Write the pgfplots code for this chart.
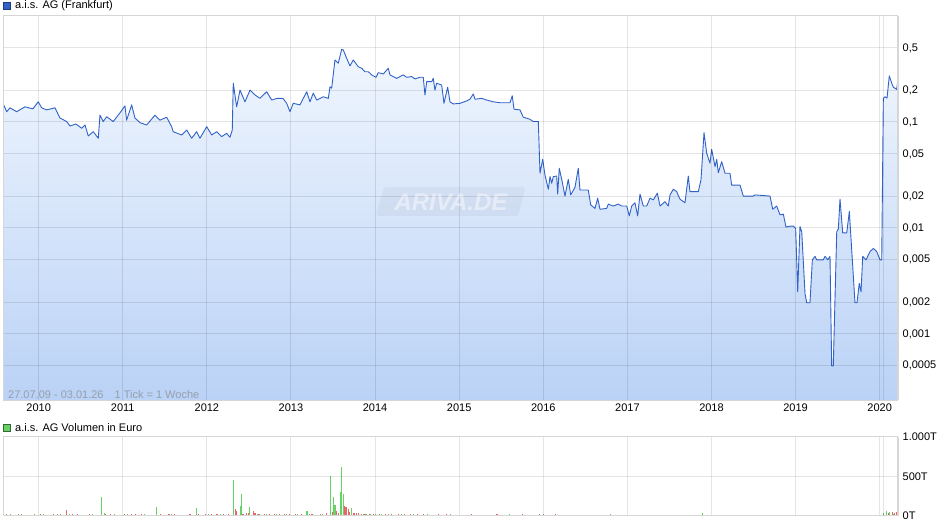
\documentclass[border=0pt]{standalone}
\usepackage{pgfplots}
\usepackage{pgfplotstable}
\pgfplotsset{compat=1.18}
\usepackage{fontspec}
\setmainfont{Liberation Sans}

\definecolor{priceline}{RGB}{48,98,200}
\definecolor{filltop}{RGB}{240,246,254}
\definecolor{fillbot}{RGB}{186,210,246}
\definecolor{volgreen}{RGB}{102,210,102}
\definecolor{volred}{RGB}{226,104,104}
\definecolor{infogray}{RGB}{150,158,172}
\definecolor{framegray}{RGB}{214,214,214}

% weekly close, a.i.s. AG (Frankfurt)
\pgfplotstableread{
year price
2009.579 0.148
2009.620 0.125
2009.659 0.136
2009.738 0.125
2009.837 0.139
2009.932 0.133
2009.995 0.155
2010.036 0.136
2010.095 0.130
2010.194 0.136
2010.253 0.109
2010.333 0.101
2010.372 0.0917
2010.444 0.0957
2010.511 0.0872
2010.551 0.0937
2010.590 0.0738
2010.649 0.0810
2010.709 0.0702
2010.729 0.116
2010.768 0.101
2010.809 0.112
2010.887 0.101
2010.967 0.122
2011.026 0.142
2011.046 0.104
2011.106 0.145
2011.145 0.109
2011.205 0.0985
2011.284 0.0937
2011.383 0.116
2011.442 0.104
2011.522 0.111
2011.581 0.0903
2011.600 0.0810
2011.700 0.0754
2011.760 0.0840
2011.819 0.0702
2011.879 0.0810
2011.918 0.0702
2011.998 0.0903
2012.057 0.0754
2012.117 0.0810
2012.176 0.0727
2012.235 0.0782
2012.275 0.0717
2012.302 0.0840
2012.314 0.232
2012.354 0.139
2012.394 0.200
2012.453 0.155
2012.513 0.200
2012.572 0.180
2012.631 0.167
2012.711 0.193
2012.771 0.161
2012.834 0.167
2012.905 0.167
2012.949 0.150
2012.988 0.125
2013.027 0.150
2013.107 0.145
2013.187 0.193
2013.226 0.155
2013.265 0.187
2013.306 0.161
2013.384 0.173
2013.444 0.167
2013.464 0.215
2013.484 0.208
2013.523 0.385
2013.562 0.358
2013.603 0.485
2013.622 0.478
2013.662 0.399
2013.702 0.338
2013.741 0.385
2013.800 0.332
2013.841 0.321
2013.880 0.298
2013.919 0.298
2013.960 0.278
2014.011 0.264
2014.038 0.292
2014.098 0.284
2014.157 0.321
2014.177 0.278
2014.257 0.258
2014.335 0.278
2014.376 0.264
2014.435 0.268
2014.474 0.255
2014.534 0.264
2014.573 0.264
2014.593 0.180
2014.614 0.240
2014.673 0.240
2014.692 0.258
2014.712 0.200
2014.732 0.232
2014.792 0.223
2014.819 0.150
2014.863 0.213
2014.891 0.155
2014.930 0.148
2015.010 0.150
2015.089 0.158
2015.128 0.164
2015.168 0.184
2015.188 0.164
2015.268 0.167
2015.327 0.161
2015.406 0.155
2015.485 0.152
2015.604 0.152
2015.631 0.177
2015.652 0.132
2015.723 0.130
2015.762 0.111
2015.842 0.106
2015.881 0.101
2015.941 0.101
2015.961 0.0328
2015.993 0.0445
2016.020 0.0316
2016.060 0.0232
2016.080 0.0305
2016.100 0.0264
2016.119 0.0305
2016.159 0.0309
2016.171 0.0209
2016.190 0.0366
2016.219 0.0288
2016.258 0.0200
2016.297 0.0288
2016.326 0.0205
2016.377 0.0242
2016.416 0.0366
2016.436 0.0228
2016.535 0.0228
2016.564 0.0165
2016.615 0.0153
2016.647 0.0191
2016.674 0.0150
2016.754 0.0153
2016.773 0.0168
2016.832 0.0161
2016.892 0.0168
2016.932 0.0161
2016.992 0.0161
2017.023 0.0130
2017.051 0.0161
2017.090 0.0173
2017.122 0.0130
2017.150 0.0209
2017.189 0.0161
2017.230 0.0161
2017.269 0.0191
2017.308 0.0184
2017.356 0.0213
2017.388 0.0161
2017.447 0.0177
2017.486 0.0161
2017.507 0.0205
2017.546 0.0232
2017.586 0.0220
2017.625 0.0187
2017.685 0.0173
2017.724 0.0309
2017.744 0.0220
2017.843 0.0220
2017.875 0.0284
2017.911 0.0793
2017.943 0.0507
2017.982 0.0408
2018.002 0.0553
2018.042 0.0379
2018.062 0.0445
2018.081 0.0332
2018.121 0.0422
2018.161 0.0328
2018.220 0.0328
2018.240 0.0254
2018.339 0.0254
2018.378 0.0200
2018.497 0.0200
2018.517 0.0205
2018.696 0.0200
2018.728 0.0150
2018.775 0.0161
2018.815 0.0133
2018.854 0.0135
2018.886 0.0102
2018.933 0.0104
2018.973 0.0104
2019.001 0.0099
2019.025 0.0025
2019.052 0.0103
2019.073 0.0092
2019.112 0.0024
2019.132 0.00197
2019.171 0.00197
2019.199 0.0050
2019.231 0.0054
2019.251 0.0050
2019.329 0.0050
2019.350 0.0054
2019.382 0.0050
2019.409 0.0054
2019.429 0.0005
2019.448 0.0005
2019.489 0.0092
2019.508 0.0098
2019.528 0.0187
2019.560 0.0090
2019.608 0.0090
2019.639 0.0143
2019.706 0.00197
2019.730 0.00197
2019.757 0.0030
2019.778 0.0025
2019.798 0.0054
2019.837 0.0050
2019.885 0.0060
2019.924 0.0064
2019.964 0.0060
2020.004 0.0050
2020.024 0.0050
2020.043 0.167
2020.063 0.173
2020.087 0.168
2020.114 0.272
2020.143 0.232
2020.162 0.213
2020.202 0.203
2020.214 0.240
}\pricetable

% volume in thousand euro, weeks with rising price
\pgfplotstableread{
year vol
2009.60 15
2009.66 30
2009.76 20
2009.85 15
2009.95 25
2010.06 20
2010.14 15
2010.22 20
2010.30 15
2010.37 20
2010.44 15
2010.56 15
2010.64 20
2010.744 240
2010.78 35
2010.90 20
2010.98 15
2011.06 20
2011.18 15
2011.26 20
2011.34 15
2011.398 114
2011.50 15
2011.58 20
2011.66 15
2011.75 15
2011.874 101
2011.94 15
2012.02 20
2012.09 15
2012.16 20
2012.23 15
2012.314 456
2012.397 130
2012.409 278
2012.509 114
2012.60 20
2012.66 15
2012.71 20
2012.77 15
2012.83 20
2012.89 15
2012.95 20
2013.02 15
2013.08 20
2013.15 15
2013.190 63
2013.22 20
2013.30 15
2013.38 20
2013.467 506
2013.503 240
2013.523 139
2013.586 304
2013.598 620
2013.622 278
2013.717 101
2013.76 30
2013.86 25
2013.90 20
2013.95 25
2014.01 20
2014.08 25
2014.16 20
2014.24 15
2014.31 20
2014.39 15
2014.46 20
2014.54 15
2014.62 20
2014.70 15
2014.80 15
2014.90 20
2015.00 15
2015.10 15
2015.20 10
2015.30 15
2015.40 10
2015.50 15
2015.60 20
2015.70 10
2015.80 15
2015.90 10
2016.00 25
2016.10 15
2016.20 10
2016.30 15
2016.40 10
2016.50 15
2016.60 10
2016.70 15
2016.80 20
2016.90 10
2017.00 15
2017.10 10
2017.20 15
2017.30 10
2017.40 15
2017.50 10
2017.60 15
2017.70 10
2017.89 35
2018.00 10
2018.10 10
2018.20 15
2018.30 10
2018.40 10
2018.50 15
2018.60 10
2018.70 10
2018.80 15
2018.90 10
2019.00 15
2019.10 10
2019.20 15
2019.30 10
2019.40 10
2019.50 15
2019.60 10
2019.70 15
2019.80 10
2019.90 15
2020.00 10
2020.05 40
2020.08 60
2020.12 45
2020.17 30
}\greenvol

% volume in thousand euro, weeks with falling price
\pgfplotstableread{
year vol
2009.58 25
2009.62 20
2009.70 15
2009.80 20
2009.90 15
2010.02 20
2010.10 15
2010.18 25
2010.26 20
2010.33 76
2010.40 25
2010.46 20
2010.52 15
2010.60 20
2010.68 15
2010.80 30
2010.85 20
2010.95 15
2011.02 20
2011.10 30
2011.15 20
2011.22 25
2011.30 15
2011.45 20
2011.55 25
2011.62 20
2011.70 15
2011.80 25
2011.90 20
2011.98 20
2012.05 25
2012.12 20
2012.20 25
2012.26 20
2012.338 85
2012.354 60
2012.43 30
2012.47 40
2012.492 40
2012.552 60
2012.572 40
2012.62 25
2012.68 30
2012.74 20
2012.80 25
2012.86 20
2012.92 30
2012.98 25
2013.05 20
2013.12 25
2013.25 20
2013.35 25
2013.42 40
2013.491 50
2013.539 67
2013.562 35
2013.634 127
2013.654 118
2013.681 89
2013.70 50
2013.749 40
2013.78 35
2013.80 40
2013.841 30
2013.88 25
2013.93 20
2013.98 30
2014.05 25
2014.12 20
2014.20 25
2014.28 20
2014.35 25
2014.42 20
2014.50 25
2014.58 20
2014.65 15
2014.75 20
2014.85 25
2014.95 15
2015.05 15
2015.15 20
2015.25 15
2015.35 15
2015.45 20
2015.55 15
2015.65 15
2015.75 20
2015.85 15
2015.95 20
2016.05 15
2016.15 20
2016.25 15
2016.35 15
2016.45 15
2016.55 10
2016.65 15
2016.75 10
2016.85 15
2016.95 10
2017.05 15
2017.15 10
2017.25 15
2017.35 10
2017.45 10
2017.55 15
2017.65 10
2017.75 15
2017.85 10
2017.95 15
2018.05 10
2018.15 15
2018.25 10
2018.35 10
2018.45 15
2018.55 10
2018.65 10
2018.75 15
2018.85 10
2018.95 15
2019.05 10
2019.15 10
2019.25 15
2019.35 10
2019.45 15
2019.55 10
2019.65 10
2019.75 15
2019.85 10
2019.95 10
2020.10 40
2020.15 50
2020.18 35
2020.20 45
}\redvol

\pgfplotsset{
  chartbase/.style={
    scale only axis,
    width=894.7pt,
    xmin=2009.576, xmax=2020.214,
    xtick={2010,2011,2012,2013,2014,2015,2016,2017,2018,2019,2020},
    extra x ticks={2020.043},
    extra x tick labels={},
    extra x tick style={grid=major},
    grid=major,
    grid style={draw=black, draw opacity=0.1, line width=1pt},
    axis line style={draw=framegray, line width=1pt},
    major tick length=0pt,
    yticklabel pos=right,
    tick label style={font=\fontsize{11}{13}\selectfont, text=black},
    yticklabel style={anchor=west, xshift=1.4pt},
    /pgf/number format/assume math mode=true,
    axis on top,
  }
}

\begin{document}
\begin{tikzpicture}[x=1pt,y=1pt]
\path[use as bounding box] (0pt,0pt) rectangle (940pt,-526pt);

\begin{axis}[chartbase,
  at={(3pt,-16pt)}, anchor=north west,
  height=384pt,
  ymode=log, ymin=0.000238, ymax=1,
  log origin y=infty,
  ytick={0.0005,0.001,0.002,0.005,0.01,0.02,0.05,0.1,0.2,0.5},
  yticklabels={{0,0005},{0,001},{0,002},{0,005},{0,01},{0,02},{0,05},{0,1},{0,2},{0,5}},
  xticklabels={2010,2011,2012,2013,2014,2015,2016,2017,2018,2019,2020},
]
\addplot[draw=none, top color=filltop, bottom color=fillbot] table[x=year, y=price] {\pricetable} \closedcycle;
\addplot[priceline, line width=0.9pt, line join=round] table[x=year, y=price] {\pricetable};
\end{axis}

\begin{axis}[chartbase,
  at={(3pt,-437pt)}, anchor=north west,
  height=79pt,
  ymin=0, ymax=1000,
  ytick={0,500,1000},
  yticklabels={0T,500T,1.000T},
  xticklabels={},
]
\addplot[ycomb, volgreen, line width=1.1pt] table[x=year, y=vol] {\greenvol};
\addplot[ycomb, volred, line width=1.1pt] table[x=year, y=vol] {\redvol};
\end{axis}

% right frame edges are a bit heavier
\draw[framegray, line width=2pt] (897.7pt,-16pt) -- (897.7pt,-400pt);
\draw[framegray, line width=2pt] (897.7pt,-437pt) -- (897.7pt,-516pt);

% watermark
\fill[black, opacity=0.035, rounded corners=3pt] (376pt,-216pt) -- (518pt,-216pt) -- (525.5pt,-187pt) -- (383.5pt,-187pt) -- cycle;
\node[text=white, text opacity=0.45, font=\fontsize{24}{24}\selectfont\bfseries\itshape] at (451pt,-202pt) {ARIVA.DE};

% info line inside the price panel
\node[anchor=base west, inner sep=0, text=infogray, font=\fontsize{11}{13}\selectfont] at (8pt,-399pt) {27.07.09 - 03.01.26\quad 1 Tick = 1 Woche};

% panel titles with legend squares
\filldraw[fill=priceline, draw=priceline!60!black, line width=0.6pt] (3.5pt,-2.5pt) rectangle (10.5pt,-9.5pt);
\node[anchor=west, inner sep=0, font=\fontsize{11}{13}\selectfont] at (15pt,-6pt) {a.i.s. AG (Frankfurt)};
\filldraw[fill=volgreen, draw=volgreen!50!black, line width=0.6pt] (3.5pt,-424.5pt) rectangle (10.5pt,-431.5pt);
\node[anchor=west, inner sep=0, font=\fontsize{11}{13}\selectfont] at (15pt,-428pt) {a.i.s. AG Volumen in Euro};
\end{tikzpicture}
\end{document}
